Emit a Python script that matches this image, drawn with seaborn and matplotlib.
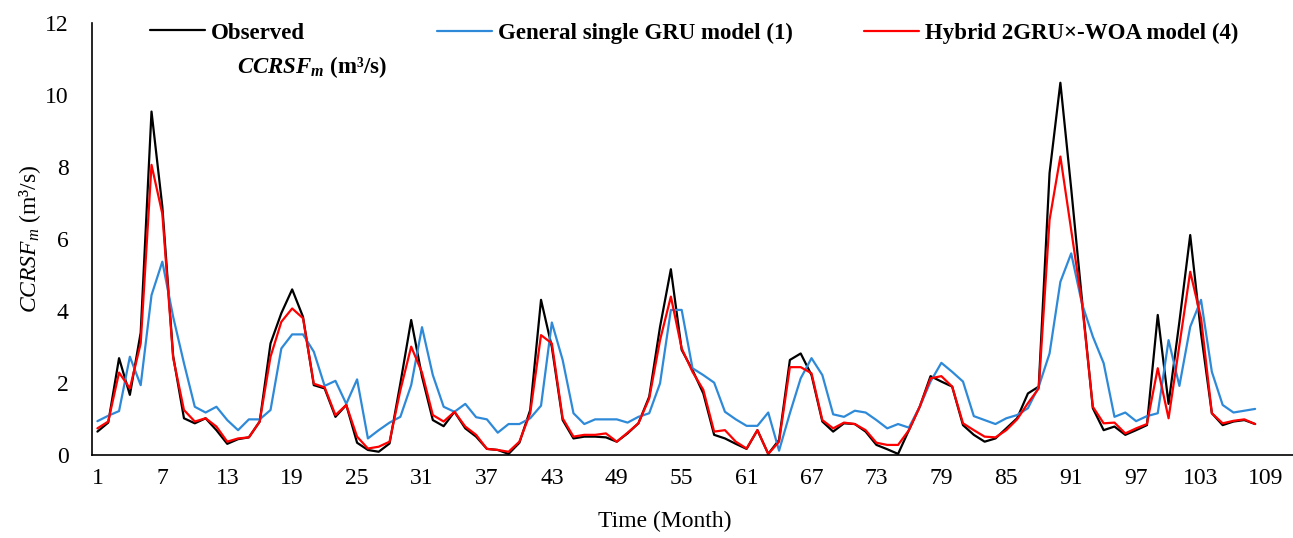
import matplotlib
matplotlib.use("Agg")
import matplotlib.pyplot as plt
import seaborn as sns
import pandas as pd

# ---- data ----
observed = [0.65, 0.90, 2.69, 1.67, 3.40, 9.54, 6.90, 2.75, 1.02, 0.88,
            1.02, 0.69, 0.31, 0.44, 0.49, 0.93, 3.10, 3.94, 4.60, 3.84,
            1.94, 1.85, 1.06, 1.39, 0.34, 0.14, 0.09, 0.32, 1.99, 3.75,
            2.18, 0.97, 0.80, 1.20, 0.74, 0.51, 0.17, 0.14, 0.03, 0.34,
            1.25, 4.31, 3.00, 0.97, 0.46, 0.51, 0.51, 0.49, 0.37, 0.60,
            0.88, 1.62, 3.56, 5.16, 2.92, 2.36, 1.71, 0.56, 0.46, 0.31,
            0.17, 0.69, 0.03, 0.42, 2.64, 2.82, 2.22, 0.93, 0.65, 0.88,
            0.86, 0.65, 0.28, 0.16, 0.03, 0.69, 1.34, 2.19, 2.04, 1.90,
            0.83, 0.56, 0.37, 0.46, 0.74, 1.02, 1.71, 1.90, 7.83, 10.34,
            7.40, 4.30, 1.30, 0.69, 0.79, 0.56, 0.69, 0.83, 3.89, 1.42,
            3.70, 6.11, 3.38, 1.16, 0.83, 0.93, 0.97, 0.86]

gru_single = [0.94, 1.09, 1.22, 2.73, 1.94, 4.44, 5.37, 3.84, 2.55, 1.34,
              1.18, 1.34, 0.97, 0.69, 0.99, 0.99, 1.25, 2.96, 3.35, 3.35,
              2.87, 1.92, 2.06, 1.42, 2.10, 0.46, 0.69, 0.90, 1.06, 1.94,
              3.55, 2.22, 1.34, 1.20, 1.42, 1.05, 0.99, 0.62, 0.86, 0.86,
              1.02, 1.37, 3.68, 2.64, 1.16, 0.86, 0.99, 0.99, 0.99, 0.90,
              1.06, 1.16, 1.99, 4.03, 4.03, 2.41, 2.22, 2.01, 1.20, 0.99,
              0.81, 0.81, 1.18, 0.12, 1.16, 2.13, 2.69, 2.22, 1.13, 1.06,
              1.23, 1.18, 0.97, 0.74, 0.86, 0.76, 1.34, 2.04, 2.56, 2.31,
              2.04, 1.08, 0.97, 0.86, 1.02, 1.11, 1.30, 1.90, 2.82, 4.81,
              5.60, 4.20, 3.29, 2.55, 1.06, 1.18, 0.94, 1.08, 1.16, 3.19,
              1.92, 3.56, 4.31, 2.31, 1.39, 1.18, 1.23, 1.28]

hybrid_woa = [0.74, 0.93, 2.29, 1.85, 3.10, 8.06, 6.70, 2.70, 1.25, 0.93,
              1.02, 0.79, 0.37, 0.46, 0.49, 0.93, 2.73, 3.70, 4.07, 3.80,
              1.98, 1.88, 1.11, 1.39, 0.51, 0.18, 0.23, 0.37, 1.80, 3.01,
              2.29, 1.11, 0.93, 1.20, 0.79, 0.56, 0.17, 0.14, 0.09, 0.37,
              1.16, 3.33, 3.10, 1.02, 0.51, 0.56, 0.56, 0.60, 0.37, 0.62,
              0.88, 1.57, 3.19, 4.40, 2.96, 2.31, 1.81, 0.65, 0.69, 0.37,
              0.18, 0.69, 0.03, 0.37, 2.44, 2.44, 2.27, 0.97, 0.74, 0.90,
              0.86, 0.69, 0.34, 0.28, 0.28, 0.69, 1.34, 2.13, 2.19, 1.90,
              0.88, 0.69, 0.51, 0.49, 0.69, 0.99, 1.44, 1.85, 6.53, 8.29,
              6.25, 4.20, 1.34, 0.88, 0.90, 0.60, 0.74, 0.86, 2.41, 1.02,
              3.05, 5.09, 3.80, 1.16, 0.88, 0.95, 0.99, 0.86]

months = list(range(1, len(observed) + 1))
x_ticks = list(range(1, 110, 6))
y_ticks = [0, 2, 4, 6, 8, 10, 12]

series_labels = ["Observed", "General single GRU model (1)",
                 "Hybrid 2GRU\u00d7-WOA model (4)"]
series_colors = ["#000000", "#2e8ad8", "#ff0000"]

df = pd.DataFrame({"Month": months, "obs": observed,
                   "gru": gru_single, "hyb": hybrid_woa})

# ---- style ----
sns.set_theme(style="white")
plt.rcParams["font.family"] = ["Liberation Serif", "DejaVu Serif"]
plt.rcParams["text.color"] = "black"
plt.rcParams["axes.labelcolor"] = "black"
plt.rcParams["mathtext.fontset"] = "custom"
plt.rcParams["mathtext.rm"] = "Liberation Serif"
plt.rcParams["mathtext.it"] = "Liberation Serif:italic"
plt.rcParams["mathtext.bf"] = "Liberation Serif:bold"
plt.rcParams["mathtext.bfit"] = "Liberation Serif:bold:italic"

W, H = 1293, 538
fig = plt.figure(figsize=(W / 100, H / 100), dpi=100)
ax = fig.add_axes([92 / W, 1 - 455 / H, 1 - 92 / W, (455 - 23) / H])

handles = []
for col, c in zip(["obs", "gru", "hyb"], series_colors):
    sns.lineplot(data=df, x="Month", y=col, ax=ax, color=c,
                 linewidth=1.6, legend=False)
    handles.append(ax.lines[-1])

ax.set_xlim(0.5, 111.5)
ax.set_ylim(0, 12)
ax.set_xticks(x_ticks)
ax.set_xticklabels([str(t) for t in x_ticks])
ax.set_yticks(y_ticks)
ax.set_yticklabels([str(t) for t in y_ticks])
ax.tick_params(axis="both", length=0, labelsize=17, colors="black")
ax.tick_params(axis="x", pad=9)
ax.tick_params(axis="y", pad=17)

for s in ["top", "right"]:
    ax.spines[s].set_visible(False)
for s in ["left", "bottom"]:
    ax.spines[s].set_color("black")
    ax.spines[s].set_linewidth(1.2)

ax.set_xlabel("Time (Month)", fontsize=17, color="black")
ax.xaxis.set_label_coords((665 - 92) / (W - 92), (455 - 511) / 432)
ax.set_ylabel(r"$CCRSF_m$ (m³/s)", fontsize=17, color="black")
ax.yaxis.set_label_coords((43 - 92) / (W - 92), 0.5)

# ---- legend: three entries placed along the top ----
for h, lab, xs in zip(handles, series_labels, [150, 437, 864]):
    fig.legend(handles=[h], labels=[lab], loc="center left",
               bbox_to_anchor=(xs / W, 1 - 33 / H), frameon=False,
               borderpad=0, borderaxespad=0, handlelength=2.4,
               handletextpad=0.25,
               prop={"weight": "bold", "size": 16.5})
fig.text(237 / W, 1 - 67 / H, r"$\mathbfit{CCRSF}_{\mathbfit{m}}$ (m³/s)",
         fontsize=16.5, fontweight="bold", ha="left", va="center",
         color="black")

fig.savefig("out.png", dpi=100)
